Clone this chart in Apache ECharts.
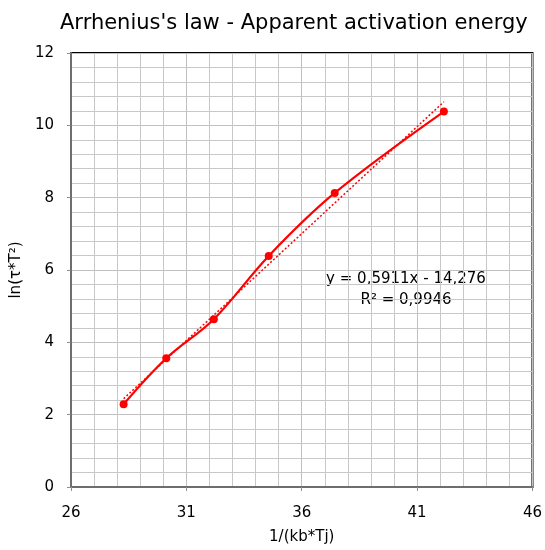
<!DOCTYPE html>
<html>
<head>
<meta charset="utf-8">
<script src="https://cdn.jsdelivr.net/npm/echarts@6/dist/echarts.min.js"></script>
<style>
    html, body { margin: 0; padding: 0; background: #fff; }
    #chart { width: 545px; height: 550px; }
</style>
</head>
<body>
<div id="chart"></div>
<script>
// measured points (1/(kb*Tj), ln(tau*T^2))
var xValues = [28.28, 30.13, 32.19, 34.57, 37.43, 42.16];
var yValues = [2.29, 3.56, 4.64, 6.39, 8.13, 10.38];
// linear trend line ends
var trendX = [28.28, 42.16];
var trendY = [2.44, 10.65];
var eqLabel = "y = 0,5911x - 14,276";
var r2Label = "R² = 0,9946";

var myChart = echarts.init(document.getElementById("chart"));

var pts = [];
for (var i = 0; i < xValues.length; i++) {
    pts.push([xValues[i], yValues[i]]);
}
var trend = [];
for (var j = 0; j < trendX.length; j++) {
    trend.push([trendX[j], trendY[j]]);
}

var font = "DejaVu Sans";
var option = {
    animation: false,
    title: {
        text: "Arrhenius's law - Apparent activation energy",
        left: 55,
        top: 8,
        textStyle: { fontFamily: font, fontSize: 21, fontWeight: "normal", color: "#000" }
    },
    grid: {
        left: 71, top: 53, right: 8, bottom: 61,
        show: true, borderColor: "#000", borderWidth: 2
    },
    xAxis: {
        type: "value",
        min: 26, max: 46, interval: 5,
        name: "1/(kb*Tj)",
        nameLocation: "middle",
        nameGap: 43,
        nameTextStyle: { fontFamily: font, fontSize: 15, color: "#000" },
        axisLine: { lineStyle: { color: "#6e6e6e", width: 2 } },
        axisTick: { show: true, length: 4, lineStyle: { color: "#8c8c8c" } },
        axisLabel: { fontFamily: font, fontSize: 15, color: "#000", margin: 19 },
        splitLine: { lineStyle: { color: "#c0c0c0", width: 1 } },
        minorTick: { show: true, splitNumber: 5, length: 0 },
        minorSplitLine: { show: true, lineStyle: { color: "#c8c8c8", width: 1 } }
    },
    yAxis: {
        type: "value",
        min: 0, max: 12, interval: 2,
        name: "ln(τ*T²)",
        nameLocation: "middle",
        nameGap: 47,
        nameTextStyle: { fontFamily: font, fontSize: 15, color: "#000" },
        axisLine: { show: true, lineStyle: { color: "#6e6e6e", width: 2 } },
        axisTick: { show: true, length: 4, lineStyle: { color: "#8c8c8c" } },
        axisLabel: { fontFamily: font, fontSize: 15, color: "#000", margin: 17 },
        splitLine: { lineStyle: { color: "#c0c0c0", width: 1 } },
        minorTick: { show: true, splitNumber: 5, length: 0 },
        minorSplitLine: { show: true, lineStyle: { color: "#c8c8c8", width: 1 } }
    },
    series: [
        {
            name: "data",
            type: "line",
            data: pts,
            smooth: 0.35,
            symbol: "circle",
            symbolSize: 8,
            itemStyle: { color: "#ff0000" },
            lineStyle: { color: "#ff0000", width: 2.2 },
            z: 3
        },
        {
            name: "trend",
            type: "line",
            data: trend,
            symbol: "none",
            lineStyle: { color: "#ff0000", width: 1.5, type: [2, 2] },
            z: 2
        }
    ],
    graphic: [
        {
            type: "text",
            x: 406, y: 279,
            style: { text: eqLabel, fontFamily: font, fontSize: 15, fill: "#000",
                     textAlign: "center", textVerticalAlign: "middle" }
        },
        {
            type: "text",
            x: 406, y: 300,
            style: { text: r2Label, fontFamily: font, fontSize: 15, fill: "#000",
                     textAlign: "center", textVerticalAlign: "middle" }
        }
    ]
};
myChart.setOption(option);
window.addEventListener("resize", function () {
    myChart.resize();
});
</script>
</body>
</html>
